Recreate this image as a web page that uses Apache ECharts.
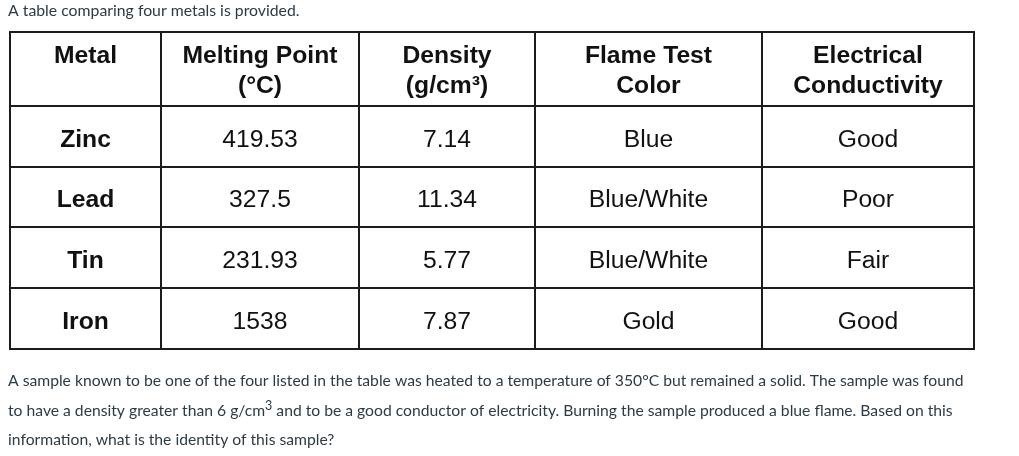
<!DOCTYPE html>
<html><head><meta charset="utf-8">
<script src="https://cdn.jsdelivr.net/npm/echarts@6/dist/echarts.min.js"></script>
<style>html,body{margin:0;padding:0;background:#fff}#c{width:1019px;height:456px}</style>
</head><body><div id="c"></div>
<script>
// ---- content ----
const introText = 'A table comparing four metals is provided.';
const headers = ['Metal', 'Melting Point\n(°C)', 'Density\n(g/cm³)', 'Flame Test\nColor', 'Electrical\nConductivity'];
const metals = ['Zinc', 'Lead', 'Tin', 'Iron'];
const meltingPoints = ['419.53', '327.5', '231.93', '1538'];
const densities = ['7.14', '11.34', '5.77', '7.87'];
const flameColors = ['Blue', 'Blue/White', 'Blue/White', 'Gold'];
const conductivity = ['Good', 'Poor', 'Fair', 'Good'];
const questionLines = [
  'A sample known to be one of the four listed in the table was heated to a temperature of 350°C but remained a solid. The sample was found',
  'to have a density greater than 6 g/cm{sup|3} and to be a good conductor of electricity. Burning the sample produced a blue flame. Based on this',
  'information, what is the identity of this sample?'
];

// ---- layout (table units) ----
const colWidths = [151, 198, 176, 227, 212];
const rowHeights = [74, 61, 60, 61, 61];

const sum = a => a.reduce((s, v) => s + v, 0);
const colStart = colWidths.map((_, i) => sum(colWidths.slice(0, i)));
const rowStart = rowHeights.map((_, i) => sum(rowHeights.slice(0, i)));

const rows = [headers].concat(metals.map((m, i) => [m, meltingPoints[i], densities[i], flameColors[i], conductivity[i]]));
const cellTexts = [];
const cellData = [];
rows.forEach((row, r) => row.forEach((t, c) => { cellData.push([c, r]); cellTexts.push(t); }));

const chart = echarts.init(document.getElementById('c'), null, { renderer: 'canvas' });
chart.setOption({
  backgroundColor: '#fff',
  animation: false,
  title: [
    { text: introText, left: 8, top: 1, padding: 0,
      textStyle: { fontFamily: 'Lato', fontSize: 15.8, fontWeight: 'normal', color: '#2d3b45', lineHeight: 20 } },
    { text: questionLines.join('\n'), left: 8, top: 366, padding: 0,
      textStyle: { fontFamily: 'Lato', fontSize: 15.7, fontWeight: 'normal', color: '#2d3b45', lineHeight: 29.7,
        rich: { sup: { fontFamily: 'Lato', fontSize: 12.5, color: '#2d3b45', lineHeight: 15, padding: [0, 0, 9, 0] } } } }
  ],
  grid: { left: 10, top: 32, width: sum(colWidths), height: sum(rowHeights) },
  xAxis: { type: 'value', min: 0, max: sum(colWidths), show: false },
  yAxis: { type: 'value', min: 0, max: sum(rowHeights), inverse: true, show: false },
  series: [{
    type: 'custom',
    clip: false,
    data: cellData,
    encode: { x: 0, y: 1 },
    renderItem: function (params, api) {
      const c = api.value(0), r = api.value(1);
      const p0 = api.coord([colStart[c], rowStart[r]]);
      const p1 = api.coord([colStart[c] + colWidths[c], rowStart[r] + rowHeights[r]]);
      const isHeader = r === 0;
      const bold = isHeader || c === 0;
      const cx = (p0[0] + p1[0]) / 2;
      return {
        type: 'group',
        children: [
          { type: 'rect', shape: { x: p0[0], y: p0[1], width: p1[0] - p0[0], height: p1[1] - p0[1] },
            style: { fill: '#fff', stroke: '#1c1c1c', lineWidth: 2 } },
          { type: 'text', z2: 10,
            style: {
              text: cellTexts[params.dataIndex],
              x: cx,
              y: isHeader ? p0[1] + 9.5 : (p0[1] + p1[1]) / 2 + 3.5,
              align: 'center',
              verticalAlign: isHeader ? 'top' : 'middle',
              lineHeight: 30,
              fontFamily: 'Liberation Sans, Arial, sans-serif',
              fontSize: 24.7,
              fontWeight: bold ? 'bold' : 'normal',
              fill: '#111'
            } }
        ]
      };
    }
  }]
});
</script></body></html>
